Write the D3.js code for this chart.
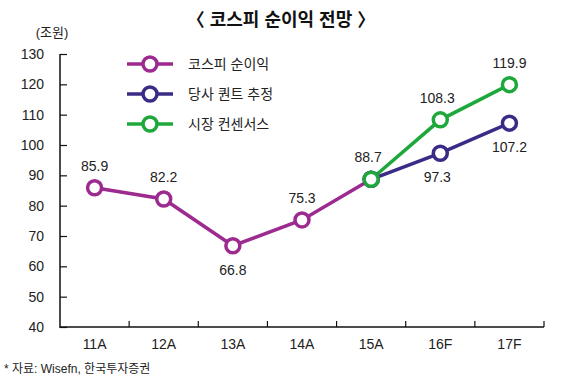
<!DOCTYPE html>
<html><head><meta charset="utf-8">
<script src="https://cdn.jsdelivr.net/npm/d3@7"></script>
<style>
body{margin:0;background:#fff;}
text{font-family:"Liberation Sans","Noto Sans CJK KR",sans-serif;}
</style></head>
<body><svg id="c" width="561" height="392"></svg>
<script>
const categories = ["11A","12A","13A","14A","15A","16F","17F"];
const kospi = [85.9, 82.2, 66.8, 75.3, 88.7, null, null];
const house = [null, null, null, null, 88.7, 97.3, 107.2];
const consensus = [null, null, null, null, 88.7, 108.3, 119.9];
const yTicks = [40,50,60,70,80,90,100,110,120,130];
const seriesNames = ["코스피 순이익","당사 퀀트 추정","시장 컨센서스"];
const colors = ["#9c2a8f","#3b2a86","#1ea83c"];
// label placement: 1 = above, -1 = below
const kospiPos = [1,1,-1,1,1,0,0];
const housePos = [0,0,0,0,0,-1,-1];
const consPos = [0,0,0,0,0,1,1];

const svg = d3.select("#c");
const L=60,R=544,T=54,B=327;
const x = d3.scaleBand().domain(categories).range([L,R]);
const y = d3.scaleLinear().domain([40,130]).range([B,T]);

svg.append("text").attr("x",281).attr("y",26).attr("text-anchor","middle")
  .attr("font-size",18).attr("font-weight","bold").attr("fill","#111")
  .text("〈 코스피 순이익 전망 〉");
svg.append("text").attr("x",52).attr("y",37).attr("text-anchor","middle")
  .attr("font-size",13).attr("fill","#222").text("(조원)");

// y axis
const ya = svg.append("g").attr("transform",`translate(${L},0)`)
  .call(d3.axisRight(y).tickValues(yTicks).tickSize(7).tickFormat(""));
ya.select(".domain").remove();
svg.append("line").attr("x1",L).attr("x2",L).attr("y1",T).attr("y2",B+1).attr("stroke","#111").attr("stroke-width",1.5);
ya.selectAll("line").attr("stroke","#111").attr("stroke-width",1.2);
svg.selectAll(".yl").data(yTicks).enter().append("text")
  .attr("x",44).attr("y",d=>y(d)+5).attr("text-anchor","end")
  .attr("font-size",14).attr("fill","#222").text(d=>d);

// x axis
svg.append("line").attr("x1",L).attr("x2",R).attr("y1",B).attr("y2",B).attr("stroke","#111").attr("stroke-width",1.5);
svg.selectAll(".xt").data(categories).enter().append("line")
  .attr("x1",d=>x(d)+x.bandwidth()).attr("x2",d=>x(d)+x.bandwidth())
  .attr("y1",B).attr("y2",B-6).attr("stroke","#111").attr("stroke-width",1.2);
svg.selectAll(".xl").data(categories).enter().append("text")
  .attr("x",d=>x(d)+x.bandwidth()/2).attr("y",B+22).attr("text-anchor","middle")
  .attr("font-size",14).attr("fill","#222").text(d=>d);

const cx = d=>x(d)+x.bandwidth()/2;
const line = d3.line().defined(d=>d.v!=null).x(d=>cx(d.c)).y(d=>y(d.v));
[kospi,house,consensus].forEach((s,i)=>{
  const data = categories.map((c,j)=>({c,v:s[j]}));
  svg.append("path").datum(data).attr("d",line).attr("fill","none")
    .attr("stroke",colors[i]).attr("stroke-width",3.5);
});
[kospi,house,consensus].forEach((s,i)=>{
  const data = categories.map((c,j)=>({c,v:s[j]})).filter(d=>d.v!=null);
  svg.selectAll(null).data(data).enter().append("circle")
    .attr("cx",d=>cx(d.c)).attr("cy",d=>y(d.v)).attr("r",7)
    .attr("fill","#fff").attr("stroke",colors[i]).attr("stroke-width",3.5);
});
// value labels
[[kospi,kospiPos],[house,housePos],[consensus,consPos]].forEach(([s,p])=>{
  categories.forEach((c,j)=>{
    if(s[j]==null||!p[j]) return;
    const yy = y(s[j]) + (p[j]>0 ? -17 : 29);
    const dx = j===4 ? -3 : (j===5 ? -3 : 0);
    svg.append("text").attr("x",cx(c)+dx)
      .attr("y",yy).attr("text-anchor","middle")
      .attr("font-size",14).attr("fill","#222").text(s[j].toFixed(1));
  });
});

// legend
const lg = svg.append("g");
seriesNames.forEach((n,i)=>{
  const yy = 64 + i*30;
  lg.append("line").attr("x1",127).attr("x2",173).attr("y1",yy).attr("y2",yy)
    .attr("stroke",colors[i]).attr("stroke-width",3.5);
  lg.append("circle").attr("cx",150).attr("cy",yy).attr("r",7).attr("fill","#fff")
    .attr("stroke",colors[i]).attr("stroke-width",3.5);
  lg.append("text").attr("x",188).attr("y",yy+5).attr("font-size",14).attr("fill","#222").text(n);
});

svg.append("text").attr("x",4).attr("y",373).attr("font-size",12).attr("fill","#222")
  .text("* 자료: Wisefn, 한국투자증권");
</script></body></html>
